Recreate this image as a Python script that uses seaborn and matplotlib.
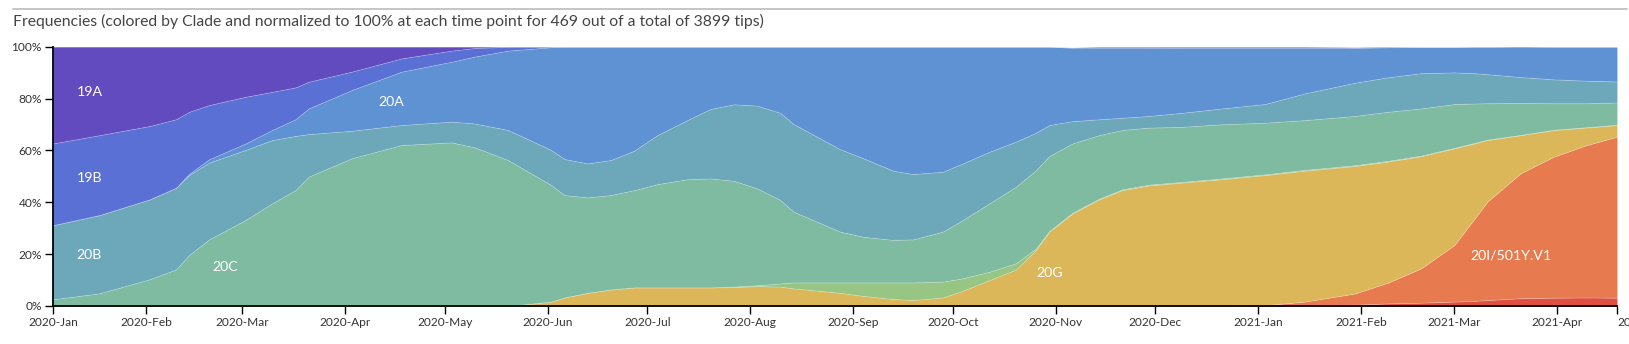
import matplotlib
matplotlib.use("Agg")
import matplotlib.pyplot as plt
from matplotlib.lines import Line2D
import pandas as pd
import seaborn as sns

# ---- data: clade frequencies (%) at each time point, stacked bottom -> top ----
dates = [
    "2020-01-04", "2020-01-18", "2020-02-02", "2020-02-10", "2020-02-14", "2020-02-20",
    "2020-03-02", "2020-03-10", "2020-03-17", "2020-03-21", "2020-04-03", "2020-04-18",
    "2020-05-03", "2020-05-10", "2020-05-20", "2020-06-02", "2020-06-06", "2020-06-13",
    "2020-06-20", "2020-06-27", "2020-07-04", "2020-07-13", "2020-07-20", "2020-07-27",
    "2020-08-03", "2020-08-10", "2020-08-14", "2020-08-28", "2020-09-04", "2020-09-13",
    "2020-09-19", "2020-09-28", "2020-10-04", "2020-10-12", "2020-10-20", "2020-10-26",
    "2020-10-30", "2020-11-06", "2020-11-14", "2020-11-21", "2020-11-29", "2020-12-09",
    "2020-12-21", "2021-01-03", "2021-01-15", "2021-01-30", "2021-02-09", "2021-02-19",
    "2021-03-01", "2021-03-07", "2021-03-11", "2021-03-21", "2021-03-31", "2021-04-10",
    "2021-04-19",
]

clade_other = [0, 0, 0, 0, 0, 0, 0, 0, 0, 0, 0, 0, 0, 0, 0, 0, 0, 0, 0, 0, 0, 0, 0, 0,
               0, 0, 0, 0, 0, 0, 0, 0, 0, 0, 0, 0, 0, 0, 0, 0, 0, 0, 0, 0, 0.1, 0.5, 1.0,
               1.3, 1.7, 2.0, 2.3, 3.0, 3.2, 3.3, 3.2]
clade_20I = [0, 0, 0, 0, 0, 0, 0, 0, 0, 0, 0, 0, 0, 0, 0, 0, 0, 0, 0, 0, 0, 0, 0, 0,
             0, 0, 0, 0, 0, 0, 0, 0, 0, 0, 0, 0, 0, 0, 0, 0, 0, 0, 0, 0.3, 1.6, 4.3, 8.0,
             13.2, 21.8, 31.5, 38.0, 48.2, 54.4, 58.8, 62.1]
clade_20G = [0, 0, 0, 0, 0, 0, 0, 0, 0, 0, 0, 0, 0, 0, 0, 1.7, 3.3, 5.1, 6.4, 7.2, 7.2,
             7.2, 7.2, 7.3, 7.7, 7.5, 6.8, 5.1, 3.9, 2.7, 2.3, 3.3, 5.9, 10.0, 14.1, 21.6,
             28.7, 35.7, 41.1, 44.7, 46.5, 47.6, 48.9, 50.2, 50.5, 49.2, 46.7, 43.3, 37.3,
             29.2, 23.7, 14.7, 10.3, 6.8, 4.5]
clade_20E = [0, 0, 0, 0, 0, 0, 0, 0, 0, 0, 0, 0, 0, 0, 0, 0, 0, 0, 0, 0, 0, 0, 0, 0.2,
             0.3, 1.2, 2.3, 4.0, 5.2, 6.4, 6.8, 6.1, 4.8, 3.2, 2.4, 0.6, 0.2, 0.3, 0.3,
             0.3, 0.3, 0.3, 0.3, 0.3, 0.3, 0.3, 0.3, 0.2, 0.2, 0.2, 0.2, 0.1, 0.1, 0.1,
             0.1]
clade_20C = [2.6, 4.9, 10.3, 14.1, 19.7, 25.7, 33.2, 39.6, 44.7, 49.9, 57.0, 62.1, 63.1,
             61.2, 56.3, 45.0, 39.5, 36.8, 36.4, 37.5, 39.8, 41.7, 42.0, 40.8, 37.4, 32.2,
             27.3, 19.6, 17.6, 16.4, 16.6, 19.3, 22.5, 26.4, 29.5, 30.2, 28.9, 26.7, 24.5,
             22.9, 22.0, 21.2, 20.9, 19.9, 19.2, 19.0, 18.9, 18.2, 16.9, 15.2, 14.0, 12.3,
             10.2, 9.2, 8.6]
clade_20B = [28.6, 30.2, 30.8, 31.5, 30.8, 29.6, 27.0, 24.4, 20.9, 16.4, 10.6, 7.7, 8.0,
             9.2, 11.6, 13.5, 13.9, 13.1, 13.5, 15.2, 18.9, 22.8, 26.8, 29.5, 31.9, 33.6,
             33.8, 31.8, 30.3, 26.7, 25.2, 23.1, 21.8, 19.9, 17.4, 14.4, 12.0, 8.6, 6.1,
             4.7, 4.5, 5.4, 6.1, 7.2, 10.3, 12.8, 13.3, 13.6, 12.2, 11.7, 11.2, 10.0, 9.2,
             8.7, 8.1]
clade_20A = [0, 0, 0, 0, 0.5, 1.3, 2.5, 3.9, 6.4, 9.9, 15.7, 20.6, 23.1, 25.8, 30.6,
             39.6, 43.3, 45.0, 43.7, 40.1, 34.1, 28.3, 24.0, 22.2, 22.7, 25.5, 29.8, 39.5,
             43.0, 47.8, 49.1, 48.2, 45.0, 40.5, 36.6, 33.2, 30.2, 28.4, 27.6, 27.0, 26.3,
             25.0, 23.3, 21.6, 17.5, 13.4, 11.6, 10.1, 9.8, 10.2, 10.6, 11.8, 12.6, 13.1,
             13.4]
clade_19B = [31.5, 30.8, 28.3, 26.4, 23.9, 20.9, 18.0, 14.7, 12.3, 10.3, 7.1, 5.1, 4.3,
             3.3, 1.5, 0.2, 0, 0, 0, 0, 0, 0, 0, 0, 0, 0, 0, 0, 0, 0, 0, 0, 0, 0, 0, 0, 0,
             0, 0.4, 0.4, 0.4, 0.5, 0.5, 0.5, 0.5, 0.3, 0.2, 0, 0, 0, 0, 0, 0, 0, 0]
clade_19A = [37.3, 34.1, 30.6, 28.0, 25.1, 22.5, 19.3, 17.4, 15.7, 13.5, 9.6, 4.5, 1.5,
             0.5, 0, 0, 0, 0, 0, 0, 0, 0, 0, 0, 0, 0, 0, 0, 0, 0, 0, 0, 0, 0, 0, 0, 0, 0,
             0, 0, 0, 0, 0, 0, 0, 0, 0, 0, 0, 0, 0, 0, 0, 0, 0]

clade_names = ["21-other", "20I/501Y.V1", "20G", "20E", "20C", "20B", "20A", "19B", "19A"]
clade_colors = ["#E04F41", "#E77B4F", "#DCB759", "#97C584", "#7EBBA0", "#6CA8B9",
                "#5F92D2", "#5A70D4", "#614BBF"]

# labelled clades: (name, date, percent)
label_names = ["19A", "19B", "20B", "20C", "20A", "20G", "20I/501Y.V1"]
label_dates = ["2020-01-15", "2020-01-15", "2020-01-15", "2020-02-25", "2020-04-15",
               "2020-10-30", "2021-03-18"]
label_pcts = [82.5, 49.5, 19.5, 15.0, 78.5, 12.8, 19.5]

# ---- build the table and stack it ----
t = pd.to_datetime(dates)
series = [clade_other, clade_20I, clade_20G, clade_20E, clade_20C, clade_20B,
          clade_20A, clade_19B, clade_19A]
df = pd.DataFrame({name: vals for name, vals in zip(clade_names, series)}, index=t)

sns.set_theme(style="white")
plt.rcParams["font.family"] = ["Lato", "DejaVu Sans"]

W, H = 1629, 344
fig = plt.figure(figsize=(W / 100, H / 100), dpi=100)
ax = fig.add_axes([53 / W, 38 / H, (1617 - 53) / W, (306 - 46.7) / H])

ax.stackplot(df.index, *[df[c].values for c in clade_names], colors=clade_colors,
             edgecolor=(1, 1, 1, 0.2), linewidth=0.6)

x0 = pd.Timestamp("2020-01-04")
x1 = pd.Timestamp("2021-04-19")
ax.set_xlim(x0, x1)
ax.set_ylim(0, 100)

# y axis
ax.set_yticks([0, 20, 40, 60, 80, 100])
ax.set_yticklabels(["0%", "20%", "40%", "60%", "80%", "100%"])

# x axis: axis start labelled with its month, then month starts, then axis end
months = pd.date_range("2020-02-01", "2021-04-01", freq="MS")
tick_pos = [x0] + list(months) + [x1]
tick_lab = ["2020-Jan"] + [m.strftime("%Y-%b") for m in months] + ["2021-Apr"]
ax.set_xticks(tick_pos)
ax.set_xticklabels(tick_lab)
last = ax.get_xticklabels()[-1]
last.set_horizontalalignment("left")

for s in ["top", "right"]:
    ax.spines[s].set_visible(False)
for s in ["left", "bottom"]:
    ax.spines[s].set_color("black")
    ax.spines[s].set_linewidth(1.3)
ax.tick_params(axis="both", direction="out", length=6, width=1, color="black",
               labelsize=8.6, labelcolor="#333333", pad=2, left=True, bottom=True)
ax.grid(False)

for name, d, p in zip(label_names, label_dates, label_pcts):
    ax.text(pd.Timestamp(d), p, name, color="white", fontsize=10.2,
            ha="center", va="center")

# header
fig.text(13 / W, 1 - 21 / H,
         "Frequencies (colored by Clade and normalized to 100% at each time point "
         "for 469 out of a total of 3899 tips)",
         fontsize=11.3, color="#444444", ha="left", va="center")
fig.add_artist(Line2D([13 / W, 1627 / W], [1 - 9.3 / H, 1 - 9.3 / H],
                      color="#bbbbbb", linewidth=1.2, transform=fig.transFigure))

fig.savefig("out.png", dpi=100)
